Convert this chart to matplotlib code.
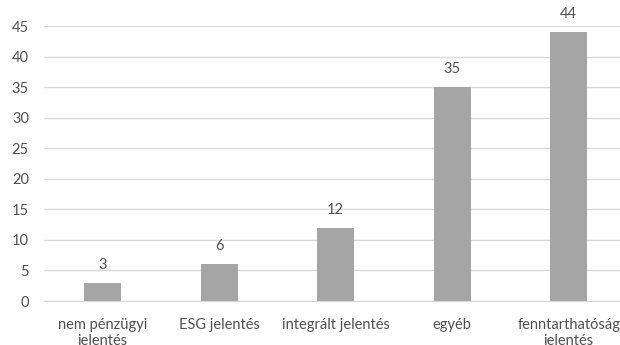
import matplotlib
matplotlib.use("Agg")
import matplotlib.pyplot as plt

categories = ["nem pénzügyi\njelentés", "ESG jelentés", "integrált jelentés",
              "egyéb", "fenntarthatóság\njelentés"]
values = [3, 6, 12, 35, 44]

plt.rcParams['font.family'] = ['Lato', 'DejaVu Sans']

fig = plt.figure(figsize=(6.2, 3.45), dpi=100)
# plot area runs a little past the right edge, as in the original
ax = fig.add_axes([0.0713, 0.1275, 0.940, 0.796])

x = range(len(categories))
ax.bar(x, values, width=0.317, color='#a5a5a5', zorder=2)
for xi, v in zip(x, values):
    ax.annotate(str(v), (xi, v), xytext=(0, 8), textcoords='offset points',
                ha='center', va='bottom', fontsize=10.5, color='#505050')

ax.set_xlim(-0.5, len(categories) - 0.5)
ax.set_ylim(0, 45)
ax.set_yticks(range(0, 50, 5))
ax.yaxis.grid(True, color='#d9d9d9', linewidth=1, zorder=0)
ax.set_xticks(list(x))
ax.set_xticklabels(categories, fontsize=10.5, color='#505050', linespacing=1.25)
ax.tick_params(axis='y', labelsize=10.5, labelcolor='#505050', length=0, pad=11)
ax.tick_params(axis='x', length=0, pad=12)
for s in ['top', 'right', 'left']:
    ax.spines[s].set_visible(False)
ax.spines['bottom'].set_color('#d9d9d9')

fig.savefig('out.png', dpi=100)
